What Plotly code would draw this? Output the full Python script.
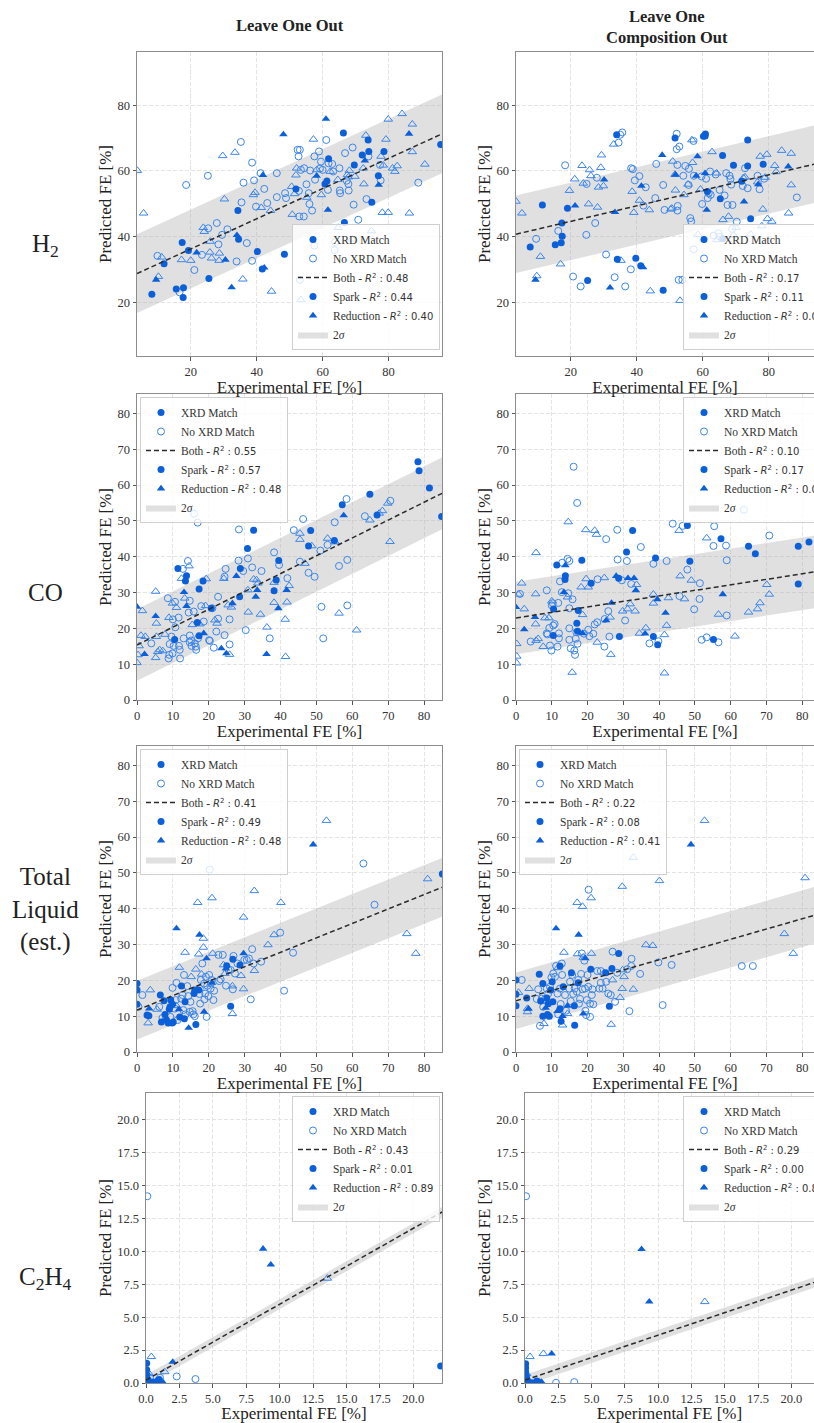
import plotly.graph_objects as go

W, H = 814, 1423

# Each point: (experimental FE, predicted FE, kind)
# kind: "S" spark / XRD match, "s" spark / no XRD match,
#       "R" reduction / XRD match, "r" reduction / no XRD match
H2_LOO = [
    (3.8, 60.1, "r"), (5.7, 47.1, "r"), (9.9, 34.1, "s"), (10.2, 27.8, "r"), (11.2, 33.7, "r"), (9.5, 26.8, "R"),
    (8.2, 22.4, "S"), (11.9, 31.7, "S"), (18.6, 55.7, "s"), (17.4, 38.2, "S"), (17.2, 32.9, "r"), (16.6, 23.0, "s"),
    (15.6, 24.0, "S"), (17.8, 24.4, "S"), (17.7, 21.4, "S"), (19.3, 35.7, "S"), (20.0, 32.7, "r"), (21.1, 29.8, "s"),
    (21.8, 35.1, "R"), (23.4, 34.4, "s"), (23.8, 42.7, "r"), (24.1, 41.5, "r"), (25.2, 58.5, "s"), (25.3, 42.5, "s"),
    (25.5, 27.2, "S"), (25.8, 35.2, "r"), (26.3, 33.4, "r"), (25.9, 38.5, "r"), (27.9, 44.1, "s"), (28.4, 37.6, "s"),
    (28.7, 34.9, "r"), (28.6, 32.7, "r"), (30.5, 32.9, "R"), (29.7, 64.6, "r"), (30.2, 51.4, "r"), (29.5, 40.5, "s"),
    (31.1, 42.2, "s"), (32.4, 24.5, "R"), (33.4, 65.6, "r"), (33.9, 32.4, "s"), (34.0, 40.4, "R"), (34.3, 47.9, "S"),
    (34.5, 39.2, "S"), (35.2, 68.8, "s"), (35.4, 50.4, "s"), (36.0, 56.4, "s"), (35.8, 27.0, "r"), (37.0, 38.0, "s"),
    (38.6, 62.5, "s"), (39.2, 57.1, "s"), (39.0, 52.7, "r"), (39.5, 53.4, "r"), (38.6, 32.6, "s"), (39.8, 49.1, "s"),
    (40.2, 35.4, "S"), (41.2, 59.3, "s"), (41.4, 48.8, "r"), (41.9, 58.7, "R"), (42.3, 54.5, "s"), (41.7, 30.1, "S"),
    (42.3, 30.5, "R"), (43.2, 50.2, "s"), (44.2, 47.9, "r"), (44.5, 23.3, "r"), (46.1, 59.3, "s"), (46.1, 52.0, "s"),
    (48.1, 71.1, "R"), (48.4, 34.6, "S"), (48.6, 53.2, "s"), (48.9, 51.7, "s"), (50.6, 55.2, "r"), (50.8, 46.7, "r"),
    (51.5, 53.0, "r"), (51.9, 58.7, "r"), (52.1, 60.8, "r"), (51.9, 54.5, "S"), (52.4, 66.4, "s"), (52.7, 64.4, "s"),
    (53.1, 66.4, "s"), (52.8, 53.9, "s"), (52.9, 46.1, "s"), (53.1, 26.8, "s"), (53.4, 20.7, "r"), (54.3, 46.1, "s"),
    (53.4, 60.3, "s"), (54.4, 60.8, "s"), (55.1, 55.9, "s"), (55.2, 51.9, "r"), (55.8, 53.2, "s"), (56.0, 49.9, "s"),
    (56.2, 60.1, "s"), (56.8, 47.9, "s"), (57.2, 69.6, "r"), (57.5, 64.4, "s"), (57.5, 37.2, "s"), (57.7, 57.3, "s"),
    (58.2, 58.5, "R"), (58.2, 60.3, "r"), (58.9, 65.9, "s"), (59.2, 60.7, "s"), (59.5, 62.8, "s"), (59.6, 52.7, "r"),
    (60.0, 60.3, "s"), (60.7, 56.0, "S"), (61.0, 75.8, "R"), (61.1, 69.4, "s"), (61.3, 56.9, "S"), (61.8, 63.7, "S"),
    (61.6, 54.2, "s"), (61.8, 62.3, "s"), (61.6, 48.1, "R"), (62.3, 59.8, "r"), (62.9, 62.1, "s"), (63.2, 59.8, "s"),
    (63.6, 35.9, "s"), (63.8, 38.3, "s"), (64.6, 57.3, "r"), (64.7, 42.7, "r"), (65.1, 60.8, "s"), (65.2, 54.0, "s"),
    (65.3, 53.2, "s"), (66.6, 44.3, "S"), (66.3, 71.5, "S"), (66.8, 65.4, "s"), (67.3, 57.0, "s"), (67.5, 58.8, "r"),
    (67.8, 56.0, "s"), (67.8, 58.1, "r"), (67.9, 54.0, "s"), (68.1, 60.1, "r"), (68.9, 39.2, "r"), (69.1, 67.1, "s"),
    (69.6, 61.8, "S"), (69.4, 49.7, "s"), (69.8, 58.3, "r"), (70.8, 45.1, "s"), (72.0, 64.8, "S"), (72.3, 60.8, "r"),
    (72.8, 63.1, "R"), (72.5, 56.0, "r"), (73.1, 70.8, "r"), (73.3, 51.4, "s"), (73.8, 69.4, "S"), (73.9, 64.4, "s"),
    (74.0, 65.9, "S"), (74.8, 41.7, "r"), (74.9, 50.4, "S"), (77.0, 55.7, "R"), (76.9, 58.5, "S"), (77.4, 61.8, "s"),
    (77.7, 64.4, "r"), (77.6, 57.1, "s"), (78.1, 47.3, "r"), (78.6, 65.9, "S"), (78.4, 61.7, "r"), (79.2, 69.6, "r"),
    (79.9, 75.7, "r"), (79.9, 47.3, "r"), (81.2, 60.8, "r"), (81.9, 59.8, "r"), (82.6, 61.5, "r"), (84.1, 77.4, "r"),
    (86.3, 47.1, "r"), (86.2, 71.3, "R"), (87.2, 74.2, "r"), (87.2, 65.8, "r"), (89.0, 56.4, "s"), (91.0, 62.0, "r"),
    (95.8, 68.0, "S"),
]

H2_LOCO = [
    (3.4, 50.7, "r"), (5.2, 47.1, "r"), (9.3, 26.8, "R"), (9.7, 28.0, "r"), (9.5, 39.3, "s"), (7.7, 36.8, "S"),
    (10.8, 33.9, "r"), (11.4, 49.6, "S"), (15.3, 37.5, "S"), (16.2, 41.7, "s"), (17.3, 44.1, "S"), (17.4, 40.1, "S"),
    (17.1, 38.1, "S"), (16.9, 31.6, "r"), (18.3, 61.7, "s"), (19.0, 48.6, "S"), (19.6, 54.0, "r"), (21.3, 49.4, "R"),
    (21.2, 57.5, "r"), (20.7, 27.8, "s"), (23.0, 24.8, "s"), (23.4, 61.6, "r"), (23.8, 56.2, "r"), (24.8, 56.0, "s"),
    (24.7, 40.5, "s"), (25.1, 26.6, "S"), (25.4, 49.9, "r"), (25.7, 60.3, "r"), (26.1, 58.5, "r"), (27.4, 44.1, "s"),
    (27.9, 57.9, "s"), (28.1, 48.9, "r"), (28.4, 55.0, "r"), (29.1, 61.0, "r"), (29.3, 64.8, "r"), (29.9, 55.4, "r"),
    (30.1, 57.3, "R"), (30.7, 34.5, "s"), (31.9, 24.4, "R"), (33.3, 27.6, "s"), (33.0, 68.1, "r"), (33.9, 71.0, "S"),
    (33.4, 47.4, "R"), (34.5, 68.6, "s"), (35.0, 71.0, "s"), (35.6, 71.7, "s"), (34.1, 33.1, "S"), (35.2, 32.7, "r"),
    (36.5, 24.8, "s"), (38.2, 30.0, "s"), (38.6, 53.7, "r"), (38.3, 60.8, "s"), (38.8, 60.5, "s"), (39.1, 47.3, "r"),
    (39.4, 57.1, "s"), (39.7, 33.4, "S"), (40.8, 58.4, "s"), (40.8, 51.0, "r"), (41.4, 55.4, "R"), (41.2, 31.1, "S"),
    (41.9, 30.6, "R"), (42.0, 49.4, "s"), (42.7, 55.0, "s"), (43.8, 48.1, "r"), (44.1, 23.4, "r"), (45.6, 51.7, "s"),
    (45.9, 62.1, "s"), (47.7, 64.8, "R"), (48.0, 55.7, "s"), (48.4, 48.1, "s"), (48.0, 23.6, "S"), (50.3, 48.3, "r"),
    (50.6, 48.6, "r"), (50.9, 62.9, "r"), (51.6, 58.9, "r"), (51.7, 54.1, "r"), (51.7, 58.8, "R"), (51.6, 70.0, "S"),
    (52.1, 71.3, "s"), (52.1, 66.6, "s"), (52.9, 67.4, "s"), (52.3, 61.8, "s"), (52.4, 49.3, "s"), (52.3, 47.9, "s"),
    (52.7, 26.8, "s"), (53.8, 26.8, "s"), (53.1, 20.5, "r"), (54.3, 52.7, "r"), (54.1, 58.5, "s"), (54.7, 61.5, "s"),
    (55.7, 55.7, "s"), (55.5, 55.9, "r"), (55.8, 60.6, "s"), (56.2, 45.6, "s"), (56.5, 44.6, "s"), (57.2, 36.1, "s"),
    (56.7, 69.4, "r"), (57.2, 69.1, "s"), (56.9, 62.5, "r"), (57.3, 58.5, "s"), (58.0, 58.5, "R"), (58.4, 64.4, "R"),
    (58.5, 40.6, "r"), (59.3, 54.4, "r"), (59.6, 58.3, "s"), (59.8, 49.9, "s"), (60.2, 70.5, "S"), (60.8, 71.2, "S"),
    (60.7, 70.6, "S"), (60.7, 59.3, "R"), (61.0, 57.6, "s"), (61.2, 48.1, "R"), (61.4, 53.7, "S"), (61.5, 51.7, "s"),
    (61.8, 53.2, "s"), (62.2, 59.8, "s"), (62.4, 52.7, "s"), (62.8, 65.8, "r"), (63.3, 40.3, "s"), (63.9, 58.9, "s"),
    (64.2, 59.3, "r"), (64.3, 39.0, "r"), (64.8, 41.0, "s"), (65.1, 54.2, "s"), (65.3, 51.5, "S"), (65.2, 39.9, "s"),
    (66.1, 45.1, "r"), (66.0, 64.7, "S"), (66.1, 39.3, "S"), (66.6, 52.5, "s"), (67.1, 59.3, "s"), (67.5, 49.6, "s"),
    (68.1, 58.5, "s"), (68.4, 57.5, "s"), (67.8, 46.1, "r"), (68.6, 55.8, "s"), (69.0, 49.6, "s"), (68.9, 42.3, "s"),
    (69.3, 61.7, "S"), (69.3, 40.4, "r"), (70.3, 44.5, "s"), (70.1, 42.7, "r"), (72.3, 57.9, "r"), (71.8, 56.8, "S"),
    (72.1, 55.4, "s"), (72.5, 50.6, "R"), (72.8, 60.8, "s"), (73.6, 69.4, "S"), (73.6, 61.5, "S"), (73.6, 54.7, "s"),
    (74.5, 40.7, "r"), (74.5, 45.4, "S"), (72.8, 58.1, "r"), (76.6, 56.6, "r"), (76.8, 55.9, "R"), (76.6, 58.5, "s"),
    (77.2, 54.4, "s"), (77.4, 64.4, "r"), (78.3, 62.0, "S"), (78.2, 48.3, "r"), (77.9, 43.2, "r"), (78.9, 58.0, "r"),
    (78.6, 57.6, "s"), (79.4, 65.0, "r"), (79.6, 45.4, "r"), (80.9, 44.6, "r"), (81.8, 61.6, "r"), (82.2, 59.7, "r"),
    (83.9, 66.2, "r"), (85.9, 61.3, "R"), (86.0, 47.1, "r"), (86.8, 65.3, "r"), (86.8, 55.7, "r"), (88.5, 51.9, "s"),
]

CO_LOO = [
    (0.0, 26.0, "R"), (0.3, 12.6, "r"), (0.0, 10.4, "r"), (0.6, 15.1, "r"), (1.1, 18.0, "r"), (1.5, 24.9, "r"),
    (2.3, 17.7, "r"), (2.1, 12.8, "R"), (4.0, 15.8, "s"), (5.2, 23.4, "R"), (5.2, 30.3, "r"), (5.4, 21.4, "r"),
    (5.4, 17.7, "r"), (5.2, 11.8, "r"), (5.8, 13.5, "r"), (6.3, 14.0, "r"), (7.2, 13.7, "r"), (7.8, 18.3, "r"),
    (8.6, 28.4, "s"), (8.8, 11.6, "s"), (9.0, 12.6, "s"), (8.9, 23.0, "r"), (9.1, 15.6, "s"), (9.9, 27.0, "r"),
    (9.6, 17.7, "s"), (9.9, 13.0, "s"), (10.0, 22.5, "s"), (10.5, 16.9, "S"), (10.2, 15.1, "s"), (10.6, 27.4, "s"),
    (10.7, 20.3, "s"), (11.0, 25.8, "r"), (11.4, 36.7, "S"), (11.6, 23.0, "s"), (11.7, 15.1, "s"), (11.9, 14.0, "s"),
    (12.0, 11.6, "s"), (12.4, 33.9, "r"), (12.8, 36.6, "s"), (13.0, 17.2, "s"), (13.1, 30.1, "R"), (13.5, 33.2, "S"),
    (13.3, 28.4, "r"), (13.8, 26.2, "R"), (13.8, 34.7, "S"), (14.2, 38.8, "s"), (14.5, 37.4, "r"), (14.4, 24.4, "s"),
    (14.7, 27.7, "s"), (14.7, 18.0, "s"), (14.7, 16.1, "s"), (15.1, 16.6, "s"), (15.2, 15.1, "s"), (15.4, 21.0, "r"),
    (15.9, 52.0, "s"), (15.8, 24.7, "s"), (16.1, 15.8, "s"), (16.4, 14.9, "s"), (16.5, 14.0, "s"), (16.8, 21.6, "S"),
    (16.9, 49.5, "s"), (17.3, 31.0, "S"), (17.3, 17.9, "S"), (17.0, 17.2, "s"), (17.5, 21.2, "r"), (17.9, 26.2, "s"),
    (18.4, 33.2, "S"), (18.6, 18.6, "R"), (18.6, 21.9, "s"), (19.3, 33.8, "r"), (19.1, 26.3, "r"), (20.1, 16.7, "s"),
    (20.3, 16.5, "s"), (20.7, 25.6, "S"), (21.0, 25.6, "s"), (21.4, 14.6, "s"), (21.7, 22.3, "r"), (22.1, 19.1, "s"),
    (22.3, 21.4, "r"), (22.6, 28.8, "s"), (22.6, 22.7, "s"), (23.5, 14.4, "R"), (24.2, 33.9, "r"), (24.4, 34.4, "s"),
    (24.7, 36.6, "s"), (24.4, 18.1, "s"), (24.9, 13.0, "R"), (25.4, 26.5, "r"), (25.8, 22.5, "s"), (25.8, 15.5, "s"),
    (25.8, 12.7, "r"), (26.6, 27.0, "R"), (26.3, 25.9, "r"), (27.7, 34.6, "R"), (28.4, 47.6, "s"), (28.3, 38.9, "s"),
    (28.6, 28.8, "S"), (28.8, 36.7, "S"), (29.6, 36.0, "s"), (30.3, 19.5, "s"), (30.8, 42.3, "S"), (30.9, 39.5, "s"),
    (30.9, 30.7, "r"), (31.0, 24.5, "r"), (32.1, 37.0, "s"), (32.5, 47.4, "S"), (32.5, 33.7, "r"), (33.3, 33.5, "r"),
    (33.1, 28.8, "R"), (33.5, 30.7, "R"), (33.7, 32.6, "r"), (34.7, 36.0, "s"), (34.4, 23.9, "r"), (37.0, 17.2, "s"),
    (36.2, 20.3, "r"), (36.1, 12.8, "R"), (38.2, 41.2, "s"), (38.2, 32.8, "r"), (38.2, 27.2, "r"), (38.2, 30.5, "S"),
    (38.8, 33.5, "S"), (39.5, 38.9, "S"), (39.6, 37.7, "s"), (39.4, 25.6, "R"), (41.3, 22.5, "r"), (41.4, 12.1, "r"),
    (41.7, 30.7, "R"), (41.8, 27.3, "r"), (41.9, 34.0, "s"), (42.4, 31.9, "r"), (43.7, 47.4, "s"), (45.4, 38.6, "s"),
    (45.4, 46.5, "r"), (45.4, 44.8, "r"), (46.3, 50.5, "s"), (46.8, 38.1, "r"), (47.8, 43.0, "S"), (47.8, 35.5, "s"),
    (48.4, 47.3, "S"), (48.7, 43.0, "r"), (49.5, 34.4, "s"), (51.1, 41.7, "s"), (51.4, 26.0, "s"), (51.9, 17.2, "s"),
    (53.1, 45.1, "r"), (53.1, 43.3, "s"), (55.0, 44.5, "S"), (55.1, 49.6, "s"), (55.2, 44.1, "r"), (56.3, 37.4, "s"),
    (56.3, 24.2, "r"), (57.2, 54.5, "S"), (57.6, 51.5, "R"), (58.4, 56.1, "s"), (58.6, 39.1, "s"), (58.6, 26.4, "s"),
    (61.2, 19.5, "r"), (63.5, 51.3, "s"), (64.9, 57.4, "S"), (64.9, 50.2, "r"), (66.9, 51.6, "S"), (67.5, 52.1, "r"),
    (68.4, 52.8, "r"), (69.9, 54.9, "r"), (70.6, 55.6, "s"), (70.5, 44.2, "r"), (78.3, 66.5, "S"), (78.6, 64.0, "S"),
    (81.5, 59.2, "S"), (84.9, 51.2, "S"),
]

CO_LOCO = [
    (0.0, 25.9, "R"), (0.2, 15.7, "r"), (0.2, 12.2, "r"), (0.2, 10.3, "r"), (0.7, 29.5, "r"), (1.1, 29.6, "s"),
    (1.6, 32.6, "r"), (2.3, 25.4, "r"), (2.3, 19.7, "R"), (4.1, 16.3, "s"), (5.3, 23.1, "R"), (5.6, 41.1, "r"),
    (5.5, 29.6, "r"), (5.5, 21.2, "r"), (5.6, 16.6, "r"), (6.2, 17.1, "r"), (7.6, 14.9, "r"), (8.1, 22.9, "r"),
    (8.6, 30.6, "s"), (8.6, 18.6, "s"), (8.8, 18.3, "s"), (9.2, 22.9, "r"), (9.3, 20.1, "s"), (9.5, 15.2, "s"),
    (9.9, 13.8, "s"), (10.0, 26.4, "s"), (10.0, 27.6, "r"), (10.3, 27.0, "s"), (10.4, 18.0, "S"), (10.4, 20.8, "s"),
    (10.5, 25.4, "S"), (10.8, 21.2, "s"), (11.4, 37.7, "S"), (11.6, 14.9, "s"), (11.8, 27.1, "s"), (12.0, 18.6, "s"),
    (12.0, 17.2, "s"), (12.3, 33.1, "s"), (12.9, 38.3, "s"), (12.8, 30.1, "s"), (13.4, 30.1, "R"), (13.7, 33.6, "S"),
    (13.8, 34.7, "S"), (13.8, 37.6, "R"), (14.4, 39.4, "s"), (14.6, 49.7, "r"), (14.6, 29.8, "s"), (14.4, 28.7, "r"),
    (14.9, 38.8, "s"), (14.9, 25.6, "s"), (14.9, 20.0, "s"), (14.9, 16.8, "s"), (15.3, 14.4, "s"), (15.8, 28.1, "s"),
    (15.7, 7.7, "r"), (16.1, 65.1, "s"), (16.3, 13.8, "s"), (16.5, 12.6, "s"), (16.7, 17.1, "s"), (16.9, 18.9, "s"),
    (17.0, 21.4, "S"), (17.1, 55.0, "s"), (17.4, 25.0, "S"), (17.2, 19.2, "S"), (17.2, 15.7, "s"), (18.2, 31.5, "r"),
    (18.4, 39.0, "S"), (18.6, 23.8, "r"), (18.6, 18.6, "R"), (19.0, 18.5, "s"), (19.5, 47.5, "r"), (19.6, 33.8, "r"),
    (20.2, 31.5, "r"), (20.2, 19.6, "s"), (20.5, 17.8, "s"), (21.0, 32.6, "S"), (21.6, 18.5, "s"), (22.0, 21.1, "s"),
    (22.0, 47.3, "r"), (22.5, 46.2, "r"), (22.7, 21.7, "s"), (22.7, 16.1, "r"), (22.8, 33.7, "s"), (24.7, 34.1, "r"),
    (24.8, 22.6, "s"), (25.2, 22.2, "R"), (25.2, 44.9, "s"), (24.7, 14.9, "s"), (25.8, 24.8, "s"), (26.1, 17.7, "s"),
    (26.3, 23.1, "r"), (26.7, 27.1, "R"), (26.5, 12.7, "r"), (28.0, 34.6, "R"), (28.3, 47.5, "s"), (28.4, 39.2, "s"),
    (28.7, 34.0, "S"), (28.9, 17.7, "S"), (29.6, 33.4, "s"), (29.8, 24.8, "r"), (30.5, 22.2, "s"), (30.9, 41.3, "S"),
    (31.0, 38.8, "s"), (31.2, 25.4, "r"), (31.3, 34.0, "R"), (31.9, 26.8, "r"), (32.2, 32.4, "s"), (32.6, 47.3, "S"),
    (33.0, 34.0, "R"), (33.5, 30.6, "R"), (33.3, 24.8, "r"), (33.7, 32.2, "r"), (34.9, 42.7, "s"), (34.5, 18.6, "r"),
    (36.1, 18.5, "R"), (36.3, 20.1, "r"), (37.3, 15.8, "s"), (38.4, 38.0, "s"), (38.4, 29.5, "r"), (38.4, 27.0, "r"),
    (38.4, 17.7, "S"), (39.0, 39.6, "S"), (39.5, 28.1, "R"), (39.8, 16.4, "s"), (39.6, 15.4, "S"), (41.5, 7.5, "r"),
    (41.5, 18.2, "r"), (42.1, 38.8, "s"), (41.8, 24.3, "R"), (42.1, 20.8, "r"), (42.6, 28.5, "r"), (43.8, 49.2, "s"),
    (45.6, 47.3, "r"), (45.9, 34.6, "r"), (45.7, 29.0, "s"), (46.6, 48.6, "s"), (47.1, 28.2, "r"), (47.9, 36.4, "s"),
    (47.9, 48.7, "S"), (48.6, 38.7, "S"), (49.0, 33.4, "r"), (49.8, 25.3, "s"), (51.3, 28.2, "s"), (51.4, 32.6, "s"),
    (51.9, 16.8, "s"), (53.3, 17.5, "s"), (53.3, 45.2, "r"), (55.2, 43.0, "s"), (55.4, 48.5, "s"), (55.2, 16.9, "S"),
    (56.6, 16.1, "s"), (56.6, 23.9, "r"), (57.3, 45.0, "S"), (57.8, 29.5, "R"), (58.7, 43.1, "s"), (58.9, 39.0, "s"),
    (58.9, 23.6, "s"), (61.2, 17.8, "r"), (63.7, 53.1, "s"), (65.0, 42.9, "S"), (65.0, 24.5, "r"), (66.9, 40.8, "S"),
    (67.5, 25.4, "r"), (68.2, 27.1, "r"), (70.8, 45.9, "s"), (70.1, 32.2, "r"), (70.8, 29.5, "r"), (78.9, 42.9, "S"),
    (78.9, 32.4, "S"), (81.9, 44.1, "S"),
]

LIQ_LOO = [
    (0.0, 19.1, "S"), (0.0, 17.3, "S"), (0.0, 13.3, "S"), (0.4, 12.6, "s"), (1.5, 15.9, "s"), (3.4, 12.1, "R"),
    (3.1, 8.1, "r"), (3.7, 17.3, "r"), (2.8, 10.3, "S"), (3.3, 10.1, "S"), (5.6, 11.9, "r"), (6.2, 12.6, "s"),
    (6.5, 15.9, "S"), (6.8, 8.4, "S"), (7.1, 9.5, "s"), (7.5, 14.3, "S"), (7.8, 10.5, "S"), (8.0, 9.1, "s"),
    (8.2, 8.9, "S"), (8.7, 8.1, "S"), (9.0, 11.9, "S"), (9.2, 12.6, "S"), (9.3, 9.8, "s"), (9.4, 14.5, "S"),
    (9.8, 8.1, "S"), (9.9, 13.3, "S"), (10.1, 8.4, "S"), (9.9, 17.9, "s"), (10.5, 12.1, "s"), (10.8, 14.5, "s"),
    (11.0, 34.5, "R"), (11.0, 19.3, "s"), (11.0, 12.9, "r"), (11.3, 8.9, "s"), (11.7, 11.9, "R"), (11.8, 23.6, "r"),
    (11.9, 9.8, "S"), (12.3, 14.9, "s"), (12.4, 18.4, "S"), (12.7, 15.9, "s"), (12.9, 11.7, "s"), (13.1, 21.5, "s"),
    (13.2, 9.3, "S"), (13.4, 14.0, "S"), (13.5, 10.5, "s"), (13.4, 27.8, "r"), (14.0, 18.4, "s"), (14.3, 15.6, "s"),
    (14.4, 6.7, "R"), (14.7, 11.2, "s"), (14.9, 14.0, "s"), (15.1, 21.0, "r"), (15.5, 11.4, "s"), (15.7, 10.5, "s"),
    (15.9, 16.3, "S"), (16.1, 17.3, "S"), (16.1, 10.0, "s"), (16.4, 7.7, "S"), (16.4, 23.1, "r"), (16.9, 41.7, "r"),
    (17.2, 27.3, "r"), (17.4, 32.7, "R"), (17.2, 17.3, "S"), (17.4, 16.2, "s"), (17.5, 17.7, "s"), (17.6, 13.5, "s"),
    (17.8, 20.1, "s"), (18.0, 21.7, "r"), (18.2, 24.7, "s"), (18.5, 31.7, "r"), (18.5, 29.2, "r"), (18.7, 19.1, "s"),
    (18.8, 14.7, "s"), (18.7, 11.2, "R"), (19.0, 16.3, "s"), (19.2, 21.0, "s"), (19.4, 26.1, "R"), (19.4, 9.8, "s"),
    (19.6, 18.5, "s"), (19.9, 15.6, "s"), (20.1, 21.5, "s"), (20.3, 50.9, "s"), (20.5, 17.7, "s"), (20.6, 19.1, "s"),
    (20.8, 20.1, "s"), (20.9, 19.3, "R"), (20.9, 43.0, "r"), (21.1, 27.5, "r"), (21.3, 14.5, "s"), (21.5, 17.1, "s"),
    (22.7, 27.1, "s"), (22.9, 19.8, "s"), (23.3, 20.3, "s"), (23.9, 27.1, "s"), (24.1, 24.3, "r"), (24.5, 21.9, "r"),
    (24.8, 18.5, "s"), (24.8, 23.3, "R"), (25.0, 24.1, "S"), (25.5, 22.9, "s"), (26.1, 22.9, "s"), (26.1, 12.8, "S"),
    (26.6, 18.4, "r"), (26.6, 10.7, "r"), (26.7, 17.5, "s"), (26.7, 25.9, "S"), (26.9, 26.8, "s"), (27.3, 21.9, "s"),
    (28.0, 24.7, "s"), (28.7, 24.3, "S"), (29.0, 21.3, "r"), (29.7, 27.5, "R"), (29.7, 37.6, "r"), (29.7, 17.6, "r"),
    (29.9, 25.7, "s"), (30.6, 25.7, "s"), (31.2, 26.1, "s"), (31.7, 14.7, "s"), (32.1, 28.7, "s"), (32.5, 24.7, "s"),
    (32.7, 45.0, "r"), (32.7, 22.7, "r"), (34.6, 25.2, "s"), (36.5, 29.9, "r"), (38.2, 32.7, "r"), (39.9, 33.3, "s"),
    (40.1, 41.7, "r"), (41.0, 17.1, "s"), (43.5, 27.7, "s"), (49.1, 57.9, "R"), (52.8, 64.6, "r"), (63.1, 52.6, "s"),
    (66.2, 41.1, "s"), (75.2, 33.0, "r"), (77.7, 27.5, "r"), (81.0, 48.3, "r"), (85.1, 49.7, "S"),
]

LIQ_LOCO = [
    (0.0, 20.1, "S"), (0.0, 16.1, "S"), (0.0, 12.9, "S"), (0.7, 16.6, "r"), (1.6, 20.1, "s"), (3.2, 12.1, "r"),
    (3.2, 11.2, "r"), (3.0, 15.1, "S"), (3.5, 12.1, "R"), (3.7, 17.7, "r"), (5.8, 14.8, "s"), (6.2, 17.5, "s"),
    (6.5, 21.7, "S"), (6.7, 7.3, "s"), (7.2, 14.9, "s"), (6.9, 14.2, "S"), (7.5, 19.1, "S"), (7.6, 12.6, "s"),
    (7.5, 10.0, "S"), (7.8, 7.9, "r"), (8.1, 14.7, "s"), (8.3, 12.3, "R"), (8.6, 15.1, "S"), (8.6, 17.7, "s"),
    (8.8, 10.5, "S"), (9.0, 16.3, "s"), (9.0, 13.5, "S"), (9.3, 10.0, "S"), (9.5, 18.2, "s"), (9.7, 17.3, "S"),
    (9.9, 20.8, "s"), (10.1, 19.6, "S"), (10.3, 14.0, "S"), (10.4, 21.9, "s"), (11.2, 34.5, "R"), (11.2, 24.0, "s"),
    (10.9, 21.0, "s"), (11.6, 16.3, "s"), (11.8, 10.5, "s"), (11.6, 11.4, "R"), (11.7, 23.5, "r"), (12.3, 24.0, "S"),
    (12.3, 12.1, "S"), (12.6, 8.6, "S"), (12.3, 17.7, "s"), (12.5, 13.4, "s"), (12.8, 24.7, "s"), (12.9, 21.5, "s"),
    (13.0, 10.0, "R"), (13.0, 7.5, "r"), (13.4, 27.8, "r"), (13.2, 18.2, "S"), (13.7, 15.9, "s"), (14.0, 11.5, "s"),
    (14.4, 10.7, "r"), (14.4, 12.9, "R"), (14.9, 17.7, "s"), (15.1, 19.6, "s"), (15.3, 14.2, "s"), (15.5, 22.1, "S"),
    (15.7, 21.5, "s"), (16.0, 16.2, "s"), (16.3, 12.9, "S"), (16.4, 7.5, "S"), (16.4, 17.7, "s"), (17.0, 16.8, "s"),
    (17.1, 41.7, "r"), (17.2, 27.4, "r"), (17.4, 20.1, "s"), (17.5, 32.7, "R"), (17.4, 19.3, "S"), (17.6, 13.5, "s"),
    (17.9, 14.8, "s"), (18.2, 21.8, "s"), (18.4, 27.5, "s"), (18.6, 17.5, "s"), (18.6, 40.6, "r"), (18.8, 26.4, "r"),
    (18.8, 10.7, "R"), (19.1, 25.5, "s"), (19.4, 26.1, "R"), (19.3, 17.7, "s"), (19.4, 11.5, "s"), (19.6, 10.3, "s"),
    (19.8, 14.5, "s"), (20.0, 21.5, "s"), (20.2, 18.2, "s"), (20.3, 45.3, "s"), (20.7, 9.8, "s"), (20.7, 13.5, "s"),
    (20.9, 23.1, "S"), (21.0, 43.0, "r"), (21.1, 27.5, "r"), (21.2, 15.9, "s"), (21.4, 17.5, "s"), (21.6, 13.3, "s"),
    (22.7, 22.6, "s"), (23.3, 17.7, "s"), (23.7, 19.3, "s"), (23.7, 22.6, "s"), (24.2, 17.7, "s"), (24.6, 22.1, "r"),
    (25.1, 22.1, "S"), (25.2, 19.6, "s"), (25.8, 16.3, "s"), (26.1, 12.8, "S"), (26.5, 15.9, "s"), (26.6, 7.7, "r"),
    (26.8, 23.3, "S"), (27.0, 28.0, "s"), (27.0, 20.1, "r"), (27.7, 14.0, "s"), (28.3, 22.1, "s"), (29.1, 15.2, "r"),
    (28.7, 27.5, "S"), (29.7, 17.7, "r"), (29.7, 46.2, "r"), (29.8, 22.9, "r"), (30.2, 21.0, "r"), (31.1, 23.1, "s"),
    (31.7, 11.4, "s"), (32.2, 24.0, "s"), (32.3, 26.0, "s"), (32.8, 54.3, "r"), (32.8, 17.5, "r"), (34.7, 21.8, "s"),
    (36.3, 29.9, "r"), (38.2, 29.7, "r"), (39.8, 25.0, "s"), (40.1, 47.8, "r"), (41.0, 13.1, "s"), (43.5, 24.3, "s"),
    (48.9, 57.9, "R"), (52.7, 64.6, "r"), (63.1, 24.0, "s"), (66.2, 24.0, "s"), (75.0, 33.0, "r"), (77.5, 27.5, "r"),
    (80.8, 48.6, "r"),
]

C2H4_LOO = [
    (0.1, 14.2, "s"), (0.05, 1.5, "S"), (0.05, 1.0, "S"), (0.05, 0.65, "S"), (0.1, 0.3, "S"), (0.2, 0.15, "S"),
    (0.25, 0.7, "r"), (0.3, 0.4, "s"), (0.4, 2.0, "r"), (0.35, 0.02, "S"), (0.5, 0.07, "S"), (0.6, 0.03, "S"),
    (0.9, 0.2, "S"), (1.0, 0.27, "S"), (1.05, 0.4, "s"), (1.4, 0.85, "r"), (1.3, 0.02, "R"), (2.0, 1.6, "R"),
    (2.3, 0.5, "s"), (3.7, 0.3, "s"), (8.76, 10.2, "R"), (9.34, 9.0, "R"), (13.57, 7.96, "r"), (22.05, 1.3, "S"),
]

C2H4_LOCO = [
    (0.08, 14.2, "s"), (0.05, 1.46, "S"), (0.05, 1.14, "S"), (0.05, 0.84, "S"), (0.1, 0.52, "S"), (0.15, 0.27, "S"),
    (0.12, 0.7, "r"), (0.25, 0.07, "S"), (0.38, 2.0, "r"), (0.5, 0.02, "S"), (0.88, 0.15, "S"), (1.0, 0.1, "S"),
    (1.25, 0.07, "R"), (1.38, 2.23, "r"), (2.0, 2.23, "R"), (2.33, 0.02, "s"), (3.7, 0.07, "s"),
    (8.75, 10.17, "R"), (9.33, 6.18, "R"), (13.5, 6.18, "r"),
]

PANEL_POINTS = [H2_LOO, H2_LOCO, CO_LOO, CO_LOCO, LIQ_LOO, LIQ_LOCO, C2H4_LOO, C2H4_LOCO]

# linear fit (predicted vs experimental) and 2-sigma half width per panel
FIT_SLOPE = [0.46, 0.236, 0.498, 0.154, 0.403, 0.286, 0.577, 0.342]
FIT_INTERCEPT = [27.0, 39.9, 15.35, 22.9, 11.7, 14.3, 0.22, 0.22]
BAND_HALF = [12.0, 11.8, 10.0, 10.1, 8.2, 7.9, 0.38, 0.4]

R2_BOTH = [0.48, 0.17, 0.55, 0.10, 0.41, 0.22, 0.43, 0.29]
R2_SPARK = [0.44, 0.11, 0.57, 0.17, 0.49, 0.08, 0.01, 0.00]
R2_REDUCTION = [0.40, 0.07, 0.48, 0.02, 0.48, 0.41, 0.89, 0.81]

COLUMN_TITLES = ["Leave One Out", "Leave One<br>Composition Out"]
ROW_LABELS = ["H<sub>2</sub>", "CO", "Total<br>Liquid<br>(est.)", "C<sub>2</sub>H<sub>4</sub>"]

TICKS_H2 = [20, 40, 60, 80]
TICKS_WIDE = [0, 10, 20, 30, 40, 50, 60, 70, 80]
TICKS_C2H4 = [0.0, 2.5, 5.0, 7.5, 10.0, 12.5, 15.0, 17.5, 20.0]

# ---------------- layout geometry (pixels) ----------------
X_RANGES = [(3.7, 96.2), (3.4, 93.7), (0, 85.0), (0, 83.3), (0, 85.0), (0, 83.3), (0, 22.15), (0, 21.7)]
Y_RANGES = [(3.6, 96.2), (3.6, 96.2), (0, 85.4), (0, 85.4), (0, 85.4), (0, 85.4), (0, 22.05), (0, 22.05)]
COL_PX = [[(137, 442), (516, 814)]] * 3 + [[(146, 442), (525, 814)]]
ROW_PX = [(52, 356), (394, 700), (746, 1052), (1093, 1383)]
# (anchor x px, anchor y px, xanchor, yanchor)
LEGEND_POS = [(440, 350, "right", "bottom"), (683, 350, "left", "bottom"),
              (140, 397, "left", "top"), (683, 397, "left", "top"),
              (140, 749, "left", "top"), (519, 749, "left", "top"),
              (440, 1096, "right", "top"), (683, 1096, "left", "top")]
ROW_LABEL_Y = [245, 592, 910, 1278]

FILL = "#0b5fd8"
OPEN = "#3b86ea"
BAND = "rgba(170,170,170,0.36)"
FRAME = "#8c8c8c"
GRID = "#e4e4e4"
SERIF = "Liberation Serif"


def fx(p):
    return p / W


def fy(p):
    return 1 - p / H


MARKERS = {
    "s": dict(symbol="circle-open", size=7, color=OPEN, line=dict(width=1, color=OPEN)),
    "r": dict(symbol="triangle-up-open", size=7.5, color=OPEN, line=dict(width=1, color=OPEN)),
    "S": dict(symbol="circle", size=7, color=FILL, line=dict(width=0)),
    "R": dict(symbol="triangle-up", size=7.5, color=FILL, line=dict(width=0)),
}


def r2_text(label, v):
    return (f"{label} - <span style='font-family:DejaVu Sans;font-size:10px'><i>R</i><sup>2</sup>"
            f" : {v:.2f}</span>")


fig = go.Figure()
layout = {}

for i, pts in enumerate(PANEL_POINTS):
    row, col = divmod(i, 2)
    n = i + 1
    xr = "x" if n == 1 else f"x{n}"
    yr = "y" if n == 1 else f"y{n}"
    leg = "legend" if n == 1 else f"legend{n}"
    x0, x1 = X_RANGES[i]
    m, b, hw = FIT_SLOPE[i], FIT_INTERCEPT[i], BAND_HALF[i]
    common = dict(xaxis=xr, yaxis=yr, legend=leg)

    # 2-sigma band around the fit
    fig.add_trace(go.Scatter(
        x=[x0, x1, x1, x0, x0],
        y=[b + m * x0 + hw, b + m * x1 + hw, b + m * x1 - hw, b + m * x0 - hw, b + m * x0 + hw],
        mode="lines", fill="toself", fillcolor=BAND, line=dict(width=0),
        name="2<i>σ</i>", legendrank=6, hoverinfo="skip", **common))

    # data points by synthesis route and XRD match
    for kind in "srSR":
        xs = [p[0] for p in pts if p[2] == kind]
        ys = [p[1] for p in pts if p[2] == kind]
        fig.add_trace(go.Scatter(x=xs, y=ys, mode="markers", marker=MARKERS[kind],
                                 showlegend=False, **common))

    # fit line
    fig.add_trace(go.Scatter(
        x=[x0, x1], y=[b + m * x0, b + m * x1], mode="lines",
        line=dict(color="#2b2b2b", width=1.5, dash="5px,3px"),
        name=r2_text("Both", R2_BOTH[i]), legendrank=3, **common))

    # legend-only entries
    fig.add_trace(go.Scatter(x=[None], y=[None], mode="markers", marker=MARKERS["S"],
                             name="XRD Match", legendrank=1, **common))
    fig.add_trace(go.Scatter(x=[None], y=[None], mode="markers", marker=MARKERS["s"],
                             name="No XRD Match", legendrank=2, **common))
    fig.add_trace(go.Scatter(x=[None], y=[None], mode="markers", marker=MARKERS["S"],
                             name=r2_text("Spark", R2_SPARK[i]), legendrank=4, **common))
    fig.add_trace(go.Scatter(x=[None], y=[None], mode="markers", marker=MARKERS["R"],
                             name=r2_text("Reduction", R2_REDUCTION[i]), legendrank=5, **common))

    if n <= 2:
        ticks = TICKS_H2
        ticktext = [str(t) for t in ticks]
    elif row < 3:
        ticks = TICKS_WIDE
        ticktext = [str(t) for t in ticks]
    else:
        ticks = TICKS_C2H4
        ticktext = [f"{t:.1f}" for t in ticks]

    cx0, cx1 = COL_PX[row][col]
    ry0, ry1 = ROW_PX[row]
    axis_common = dict(
        showline=True, linecolor=FRAME, linewidth=1, ticks="outside", ticklen=3.5,
        tickwidth=0.8, tickcolor="#555", showgrid=True, gridcolor=GRID, griddash="4px,2px",
        gridwidth=0.8, zeroline=False, automargin=False,
        tickfont=dict(family=SERIF, size=12.5, color="#333"),
        tickvals=ticks, ticktext=ticktext,
    )
    layout["xaxis" if n == 1 else f"xaxis{n}"] = dict(
        axis_common, domain=[fx(cx0), fx(cx1)], range=[x0, x1], anchor=yr, mirror=True,
        title=dict(text="Experimental FE [%]", standoff=2,
                   font=dict(family=SERIF, size=17, color="#222")))
    layout["yaxis" if n == 1 else f"yaxis{n}"] = dict(
        axis_common, domain=[fy(ry1), fy(ry0)], range=list(Y_RANGES[i]), anchor=xr,
        mirror=(col == 0),
        title=dict(text="Predicted FE [%]", standoff=1,
                   font=dict(family=SERIF, size=17, color="#222")))

    lx, ly, lxa, lya = LEGEND_POS[i]
    layout[leg] = dict(
        x=fx(lx), y=fy(ly), xanchor=lxa, yanchor=lya,
        bgcolor="rgba(255,255,255,0.8)", bordercolor="#cfcfcf", borderwidth=1,
        font=dict(family=SERIF, size=11.5, color="#333"), tracegroupgap=0)

annotations = []
for c, title in enumerate(COLUMN_TITLES):
    cx0, cx1 = COL_PX[0][c]
    center = (cx0 + cx1) / 2 if c == 0 else 667
    annotations.append(dict(
        text=f"<b>{title}</b>", x=fx(center), y=fy(27 if c == 1 else 25),
        xref="paper", yref="paper", showarrow=False, xanchor="center", yanchor="middle",
        font=dict(family=SERIF, size=16.5, color="#222")))
for r, lab in enumerate(ROW_LABELS):
    annotations.append(dict(
        text=lab, x=fx(45), y=fy(ROW_LABEL_Y[r]), xref="paper", yref="paper",
        showarrow=False, xanchor="center", yanchor="middle",
        font=dict(family=SERIF, size=25, color="#222")))

fig.update_layout(
    width=W, height=H,
    margin=dict(l=0, r=0, t=0, b=0, autoexpand=False),
    paper_bgcolor="white", plot_bgcolor="white",
    annotations=annotations, showlegend=True,
    **layout,
)

fig.write_html("out.html")
